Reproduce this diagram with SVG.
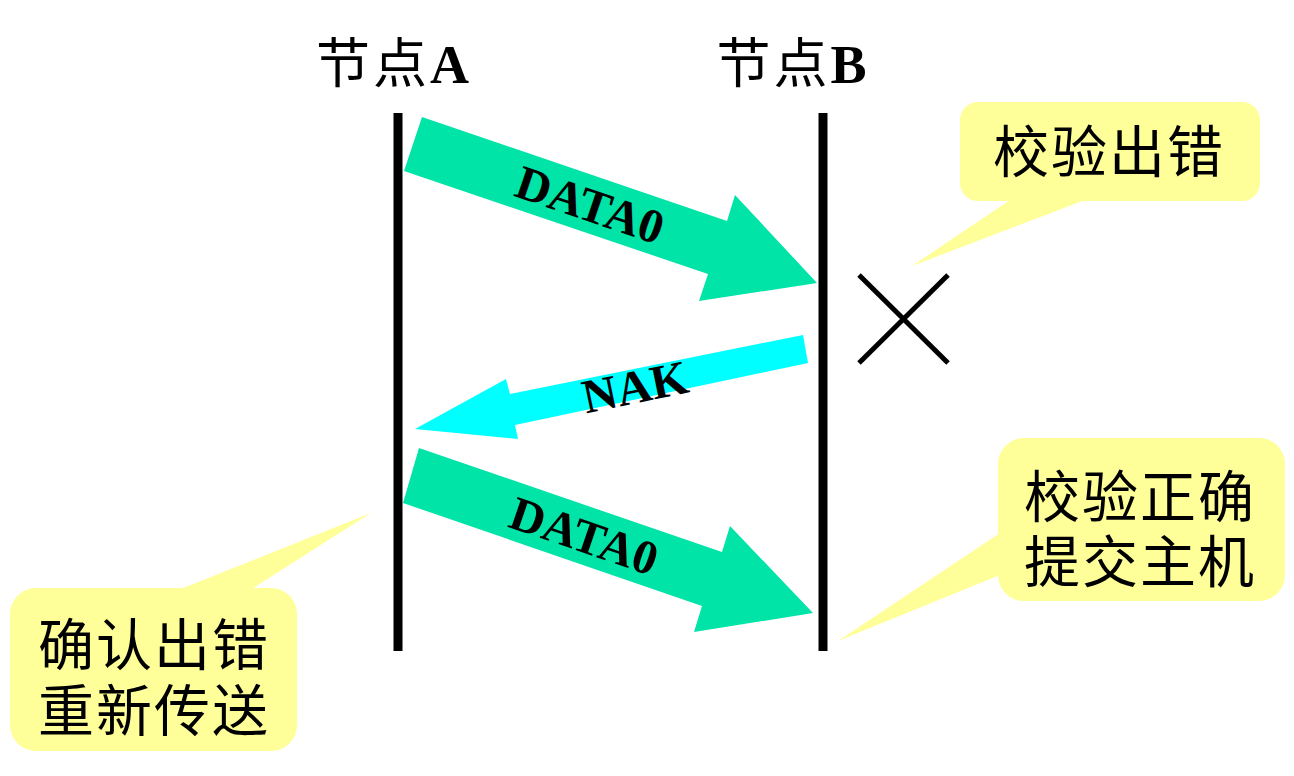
<svg xmlns="http://www.w3.org/2000/svg" width="1294" height="776" viewBox="0 0 1294 776">
<style>
.cjk{font-family:"Noto Sans CJK SC","Liberation Serif",sans-serif;fill:#000}
.lat{font-family:"Liberation Serif","Times New Roman",serif;font-weight:bold;fill:#000}
.lbl{font-family:"Liberation Serif","Times New Roman",serif;font-weight:bold;font-size:48px;fill:#000;text-anchor:middle}
.call{fill:#FFFF99}
.ct{font-family:"Noto Sans CJK SC",sans-serif;font-size:56px;fill:#000;text-anchor:middle;letter-spacing:2px}
.life{stroke:#000;stroke-width:9}
.data{fill:#00E4A8}
.nak{fill:#00FFFF}
</style>
<rect width="1294" height="776" fill="#fff"/>
<g id="nodeA">
<text x="394" y="83" class="cjk" font-size="54" text-anchor="middle" letter-spacing="3">节点<tspan class="lat">A</tspan></text>
<line class="life" x1="398" y1="113" x2="398" y2="651"/>
</g>
<g id="nodeB">
<text x="793" y="83" class="cjk" font-size="54" text-anchor="middle" letter-spacing="3">节点<tspan class="lat">B</tspan></text>
<line class="life" x1="823" y1="113" x2="823" y2="651"/>
</g>
<g id="connectors">
<g id="data0-1">
<polygon class="data" points="422,117 727,221 735,195 817,283 699,301 708,274 404,171"/>
<text class="lbl" transform="translate(590,205) rotate(18.8)" x="0" y="16">DATA0</text>
</g>
<g id="nak">
<polygon class="nak" points="803,335 808,363 515,425 518,439 415,429 506,379 510,394"/>
<text class="lbl" transform="translate(635,387) rotate(-11.6)" x="0" y="16">NAK</text>
</g>
<g id="data0-2">
<polygon class="data" points="419,448 722,552 730,526 813,613 694,632 702,606 403,503"/>
<text class="lbl" transform="translate(584,536) rotate(18.9)" x="0" y="16">DATA0</text>
</g>
</g>
<g id="error-mark">
<line x1="859" y1="275" x2="948" y2="363" stroke="#000" stroke-width="5"/>
<line x1="948" y1="275" x2="859" y2="363" stroke="#000" stroke-width="5"/>
</g>
<g id="callout-check-error">
<rect class="call" x="960" y="102" width="300" height="99" rx="18"/>
<polygon class="call" points="1010,200 1085,200 912,266"/>
<text class="ct" x="1109" y="172">校验出错</text>
</g>
<g id="callout-check-ok">
<rect class="call" x="998" y="438" width="287" height="163" rx="26"/>
<polygon class="call" points="1000,533 1000,575 838,641"/>
<text class="ct" x="1140" y="517">校验正确<tspan x="1140" y="582">提交主机</tspan></text>
</g>
<g id="callout-resend">
<rect class="call" x="10" y="588" width="287" height="163" rx="26"/>
<polygon class="call" points="178,590 250,590 371,513"/>
<text class="ct" x="154" y="665">确认出错<tspan x="154" y="731">重新传送</tspan></text>
</g>
</svg>
